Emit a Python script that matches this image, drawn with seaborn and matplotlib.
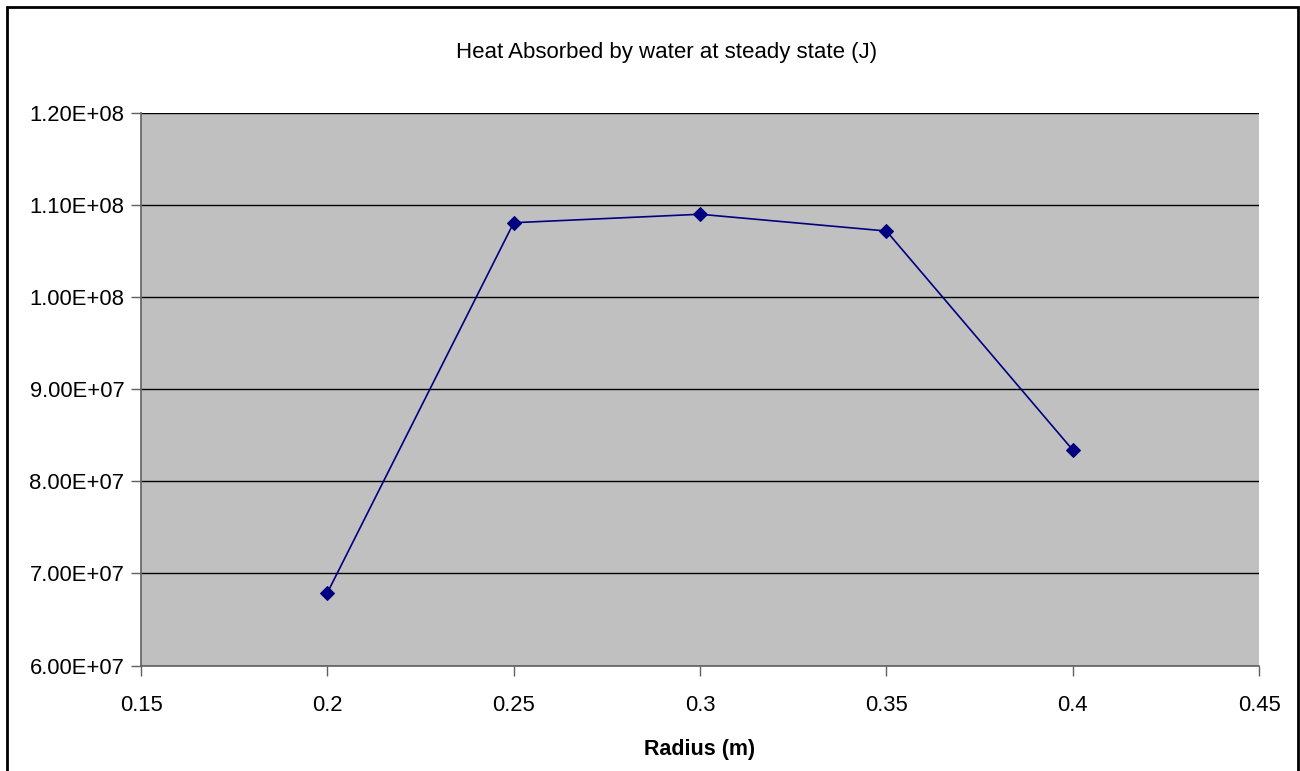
import matplotlib
matplotlib.use("Agg")
import matplotlib.pyplot as plt
import seaborn as sns
import pandas as pd
from matplotlib.patches import Rectangle
from matplotlib.ticker import FuncFormatter, MultipleLocator

radius = [0.2, 0.25, 0.3, 0.35, 0.4]
heat = [6.79e7, 1.0806e8, 1.0898e8, 1.0716e8, 8.34e7]
title = "Heat Absorbed by water at steady state (J)"
xlabel = "Radius (m)"

df = pd.DataFrame({"radius": radius, "heat": heat})

sns.set_theme(style="white")
plt.rcParams["font.family"] = ["Liberation Sans", "DejaVu Sans"]
plt.rcParams["text.color"] = "black"
plt.rcParams["axes.labelcolor"] = "black"

fig = plt.figure(figsize=(13, 7.71), dpi=100)
ax = fig.add_axes([0.1085, 0.1368, 0.86, 0.717])
ax.set_facecolor("#C0C0C0")

sns.lineplot(data=df, x="radius", y="heat", ax=ax, color="#000080",
             linewidth=1.2, marker="D", markersize=7, markeredgecolor="#000080")

ax.set_xlim(0.15, 0.45)
ax.set_ylim(6e7, 1.2e8)
ax.xaxis.set_major_locator(MultipleLocator(0.05))
ax.yaxis.set_major_locator(MultipleLocator(1e7))
ax.xaxis.set_major_formatter(FuncFormatter(lambda v, p: f"{v:.2f}".rstrip("0").rstrip(".")))
ax.yaxis.set_major_formatter(FuncFormatter(lambda v, p: f"{v:.2E}"))
ax.grid(axis="y", color="black", linewidth=1)
ax.grid(axis="x", visible=False)
ax.set_axisbelow(True)

for s in ["top", "right"]:
    ax.spines[s].set_visible(False)
for s in ["left", "bottom"]:
    ax.spines[s].set_color("#606060")
    ax.spines[s].set_linewidth(1.2)

ax.tick_params(axis="both", which="major", direction="out", length=7, width=1,
               color="#606060", labelsize=15.8, labelcolor="black", pad=5,
               left=True, bottom=True)
ax.tick_params(axis="x", pad=14)

ax.set_xlabel(xlabel, fontsize=15.5, fontweight="bold", labelpad=17, color="black")
ax.set_ylabel("")
fig.text(0.513, 0.932, title, ha="center", va="center", fontsize=16, color="black")

fig.patches.append(Rectangle((7 / 1300, -0.01), (1298 - 7) / 1300, 1 - 7 / 771 + 0.01,
                             transform=fig.transFigure, fill=False,
                             edgecolor="black", linewidth=2))

fig.savefig("out.png", dpi=100)
